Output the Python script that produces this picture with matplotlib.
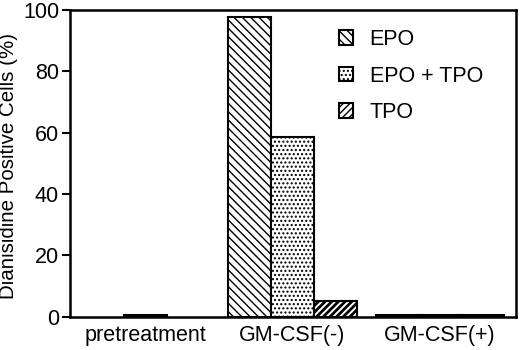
import matplotlib
matplotlib.use('Agg')
import matplotlib.pyplot as plt
import numpy as np

plt.rcParams['font.family'] = ['Liberation Sans', 'DejaVu Sans']

categories = ['pretreatment', 'GM-CSF(-)', 'GM-CSF(+)']
series = ['EPO', 'EPO + TPO', 'TPO']
epo = [np.nan, 97.5, 0.5]
epo_tpo = [0.5, 58.5, 0.5]
tpo = [np.nan, 5.0, 0.5]
hatches = ['\\\\\\\\', '....', '/////']

fig, ax = plt.subplots(figsize=(5.2, 3.5), dpi=100)
fig.subplots_adjust(left=0.135, right=0.993, top=0.972, bottom=0.095)

x = np.arange(len(categories))
w = 0.29
for i, (vals, h, lab) in enumerate(zip([epo, epo_tpo, tpo], hatches, series)):
    bars = ax.bar(x + (i - 1) * w, vals, w, facecolor='white', edgecolor='black',
                  hatch=h, linewidth=1.5, label=lab)
    if lab == 'TPO':
        for b in bars:
            try:
                b.set_hatch_linewidth(2.0)
            except AttributeError:
                pass

ax.set_xlim(-0.51, 2.52)
ax.set_ylim(0, 100)
ax.set_yticks([0, 20, 40, 60, 80, 100])
ax.set_xticks(x)
ax.set_xticklabels(categories)
ax.set_ylabel('Dianisidine Positive Cells (%)', fontsize=14.8, labelpad=2)
ax.yaxis.set_label_coords(-0.118, 0.49)
ax.tick_params(axis='both', labelsize=15.5, width=1.5, length=6, pad=2)
ax.tick_params(axis='x', length=0, pad=6)
for s in ax.spines.values():
    s.set_linewidth(1.8)

leg = ax.legend(loc='upper left', bbox_to_anchor=(0.56, 1.0), frameon=False,
                fontsize=15.5, handlelength=0.65, handleheight=0.65,
                labelspacing=0.72, handletextpad=0.75)

plt.savefig('out.png')
